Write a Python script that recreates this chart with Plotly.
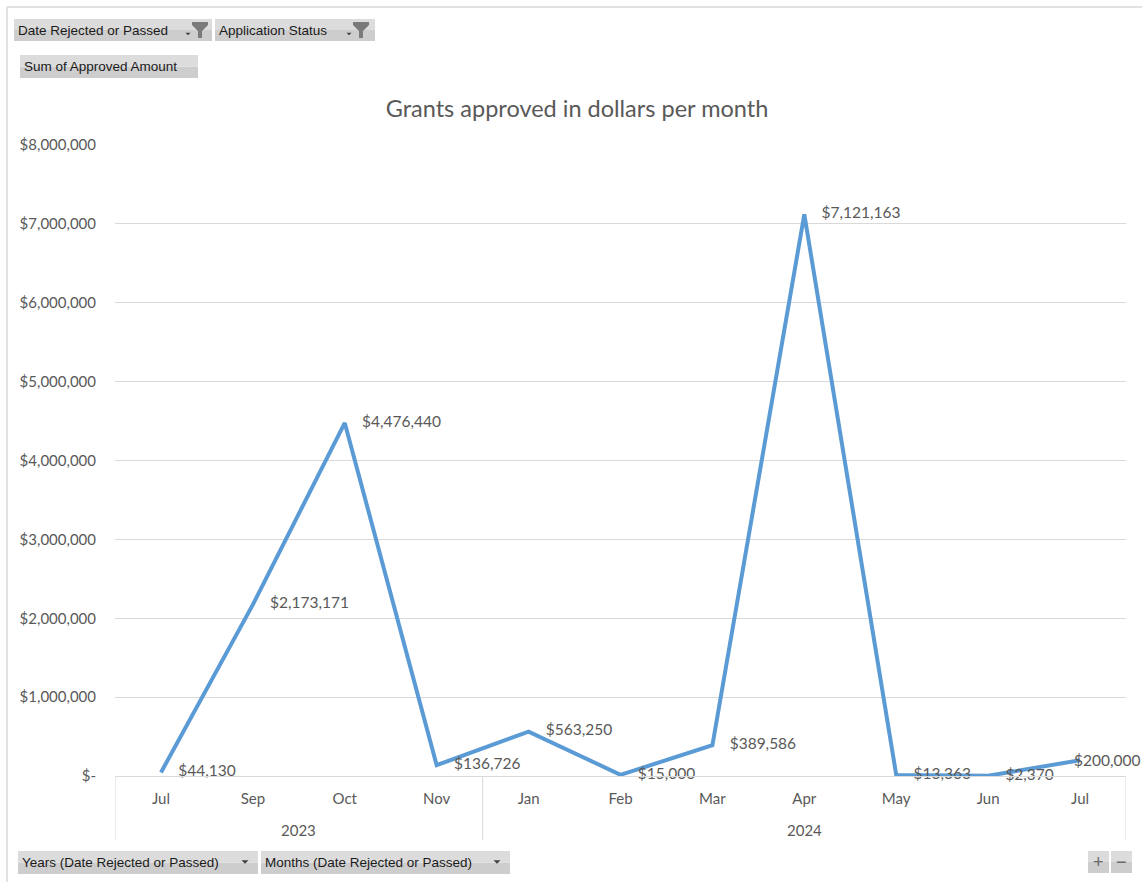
import plotly.graph_objects as go

# ---- data ----
years = ["2023", "2023", "2023", "2023", "2024", "2024", "2024", "2024", "2024", "2024", "2024"]
months = ["Jul", "Sep", "Oct", "Nov", "Jan", "Feb", "Mar", "Apr", "May", "Jun", "Jul"]
approved = [44130, 2173171, 4476440, 136726, 563250, 15000, 389586, 7121163, 13363, 2370, 200000]
y_tickvals = [0, 1000000, 2000000, 3000000, 4000000, 5000000, 6000000, 7000000, 8000000]
y_ticktext = ["$-", "$1,000,000", "$2,000,000", "$3,000,000", "$4,000,000",
              "$5,000,000", "$6,000,000", "$7,000,000", "$8,000,000"]
title_text = "Grants approved in dollars per month"

W, H = 1142, 882


def xp(x):
    return x / W


def yp(y):
    return 1 - y / H


labels = ["$" + format(v, ",") for v in approved]
idx = list(range(len(months)))
GRAY = "#595959"
GRID = "#d9d9d9"
LABEL_FONT = dict(family="Lato", size=15.5, color=GRAY)

# last label is pushed back inside the chart area (as Excel does)
trace_text = labels[:-1] + [""]

fig = go.Figure()
fig.add_trace(go.Scatter(
    x=idx, y=approved,
    mode="lines+markers+text",
    line=dict(color="#5b9bd5", width=4),
    marker=dict(size=26, color="rgba(0,0,0,0)"),
    text=trace_text, textposition="middle right",
    textfont=LABEL_FONT,
    cliponaxis=False, hoverinfo="skip", showlegend=False,
))

shapes = []
annotations = []

annotations.append(dict(xref="paper", yref="y", x=1.0, y=approved[-1], text=labels[-1], showarrow=False,
                        xanchor="right", yanchor="middle", font=LABEL_FONT))

# year groups: labels and dividers computed from the data
groups = []
for i, yr in enumerate(years):
    if not groups or groups[-1][0] != yr:
        groups.append([yr, i, i])
    else:
        groups[-1][2] = i
boundaries = [groups[0][1] - 0.5] + [g[2] + 0.5 for g in groups]
for b in boundaries:
    shapes.append(dict(type="line", xref="x", yref="paper", x0=b, x1=b, y0=yp(776), y1=yp(840),
                       line=dict(color=GRID, width=1)))
for yr, a, b in groups:
    annotations.append(dict(xref="x", yref="paper", x=(a + b) / 2, y=yp(830), text=yr, showarrow=False,
                            xanchor="center", yanchor="middle",
                            font=dict(family="Lato", size=15, color=GRAY)))

# chart frame
shapes.append(dict(type="line", xref="paper", yref="paper", x0=xp(7), x1=xp(7), y0=yp(7), y1=yp(882),
                   line=dict(color="#d9d9d9", width=1.5)))
shapes.append(dict(type="line", xref="paper", yref="paper", x0=xp(7), x1=xp(1142), y0=yp(7), y1=yp(7),
                   line=dict(color="#d9d9d9", width=1.5)))


def button(x0, y0, x1, y1, text, font_size=13.5):
    ym = (y0 + y1) / 2
    shapes.append(dict(type="rect", xref="paper", yref="paper", x0=xp(x0), x1=xp(x1), y0=yp(y1), y1=yp(ym),
                       line=dict(width=0), fillcolor="#cdcdcd", layer="above"))
    shapes.append(dict(type="rect", xref="paper", yref="paper", x0=xp(x0), x1=xp(x1), y0=yp(ym), y1=yp(y0),
                       line=dict(width=0), fillcolor="#dcdcdc", layer="above"))
    if text:
        annotations.append(dict(xref="paper", yref="paper", x=xp(x0 + 2), y=yp(ym), text=text,
                                showarrow=False, xanchor="left", yanchor="middle",
                                font=dict(family="Liberation Sans", size=font_size, color="#1a1a1a")))


def funnel(cx, cy):
    p = [(cx - 8, cy - 8), (cx + 8, cy - 8), (cx + 8, cy - 5), (cx + 2, cy + 1), (cx + 2, cy + 8),
         (cx - 2, cy + 8), (cx - 2, cy + 1), (cx - 8, cy - 5)]
    path = "M " + " L ".join(f"{xp(a)},{yp(b)}" for a, b in p) + " Z"
    shapes.append(dict(type="path", xref="paper", yref="paper", path=path,
                       fillcolor="#7a7a7a", line=dict(width=0), layer="above"))


def small_arrow(cx, cy, w=3.5):
    p = [(cx - w, cy - w / 2), (cx + w, cy - w / 2), (cx, cy + w / 2)]
    path = "M " + " L ".join(f"{xp(a)},{yp(b)}" for a, b in p) + " Z"
    shapes.append(dict(type="path", xref="paper", yref="paper", path=path,
                       fillcolor="#404040", line=dict(width=0), layer="above"))


button(14, 19, 212, 41, "Date Rejected or Passed")
funnel(200, 30)
small_arrow(188, 34, 2.5)
button(215, 19, 375, 41, "Application Status")
funnel(361, 30)
small_arrow(349, 34, 2.5)
button(20, 55, 198, 78, "Sum of Approved Amount")
button(18, 851, 258, 874, "Years (Date Rejected or Passed)")
small_arrow(245, 862, 3.5)
button(261, 851, 510, 874, "Months (Date Rejected or Passed)")
small_arrow(497, 862, 3.5)
button(1088, 851, 1109, 873, "")
button(1111, 851, 1132, 873, "")
annotations.append(dict(xref="paper", yref="paper", x=xp(1098.5), y=yp(862), text="+", showarrow=False,
                        xanchor="center", yanchor="middle",
                        font=dict(family="Liberation Sans", size=18, color="#6a6a6a")))
annotations.append(dict(xref="paper", yref="paper", x=xp(1121.5), y=yp(862), text="\u2212", showarrow=False,
                        xanchor="center", yanchor="middle",
                        font=dict(family="Liberation Sans", size=18, color="#6a6a6a")))

fig.update_layout(
    width=W, height=H,
    margin=dict(l=0, r=0, t=0, b=0),
    paper_bgcolor="white", plot_bgcolor="white",
    title=dict(text=title_text, x=xp(577), y=yp(109), xanchor="center", yanchor="middle",
               font=dict(family="Lato", size=23.5, color=GRAY)),
    xaxis=dict(
        domain=[xp(115), xp(1126)], range=[-0.5, len(months) - 0.5],
        tickvals=idx, ticktext=months,
        showgrid=False, showline=True, linecolor=GRID, linewidth=1, zeroline=False,
        ticks="", ticklabelstandoff=9,
        tickfont=dict(family="Lato", size=15, color=GRAY),
        automargin=False, fixedrange=True,
    ),
    yaxis=dict(
        domain=[yp(776), yp(145)], range=[0, 8000000],
        tickvals=y_tickvals, ticktext=y_ticktext,
        showgrid=True, gridcolor=GRID, gridwidth=1, zeroline=False,
        showline=False, ticks="", ticklabelstandoff=18,
        tickfont=dict(family="Lato", size=15, color=GRAY),
        automargin=False, fixedrange=True,
    ),
    shapes=shapes, annotations=annotations,
)

fig.write_html("out.html")
